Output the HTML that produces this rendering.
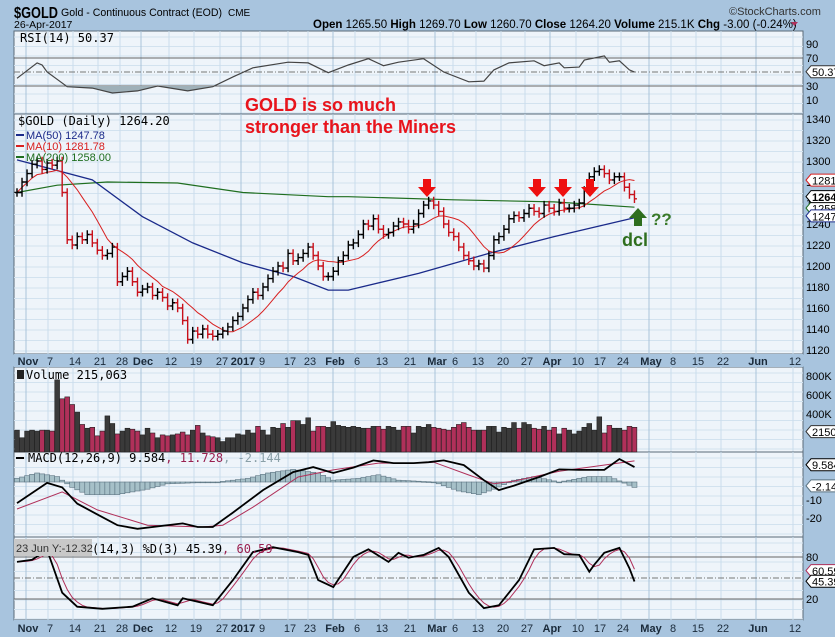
<!DOCTYPE html>
<html><head><meta charset="utf-8"><style>
body{margin:0;background:#a8c4de;width:835px;height:637px;overflow:hidden;font-family:"Liberation Sans",sans-serif}
svg{display:block}
</style></head><body>
<svg id="c" width="835" height="637" xmlns="http://www.w3.org/2000/svg">
<rect x="0" y="0" width="835" height="637" fill="#a8c4de"/>
<g id="g"></g>
</svg>
<script>
const closes=[1270,1280,1288,1297, 1300,1292,1298,1296,1300,1270,1225, 1220,1228,1225,1230,1222, 1215,1210,1212,1218,1185, 1190,1195,1185,1175,1178, 1180,1172,1175,1170,1162, 1165,1160,1148,1130,1138, 1135,1140,1135,1133,1135, 1138,1142,1148,1152, 1160,1168,1175,1172, 1180,1188,1195,1200,1198, 1212,1205,1208,1212, 1218,1210,1200,1190,1190, 1195,1205,1210,1220,1222, 1230,1240,1238,1245,1235, 1230,1232,1238,1242,1240, 1235,1240,1250,1258, 1262,1258,1252,1240,1232, 1228,1218,1210,1205,1200, 1202,1198,1210,1225,1228, 1235,1245,1248,1246,1250, 1255,1252,1250,1258,1255, 1252,1260,1255,1255,1258, 1260,1272,1285,1290, 1292,1288,1282,1285,1285, 1275,1268,1264];
const volumes=[230,150,220,230, 220,230,230,220,760,560,580, 500,420,290,250,260, 170,220,380,300,190, 220,250,240,220,180, 250,200,150,180,170, 180,190,210,180,230, 280,200,170,160,150, 110,150,150,190, 180,230,200,270, 230,180,260,250,300, 260,330,330,290, 360,220,270,270,260, 320,280,270,260,270, 260,250,250,270,270, 240,270,260,230,270, 270,200,270,260, 290,260,250,240,230, 260,290,310,260,230, 230,230,270,270,210, 260,250,310,250,310, 290,250,240,270,230, 260,190,250,230,190, 220,260,300,230, 370,200,280,250,250, 230,270,260,250,290];
const ma50Idx=[0,15,25,35,45,55,62,66,80,94,107,123];
const ma50Vals=[1301,1282,1247,1222,1203,1190,1177,1177,1193,1212,1228,1246];
const ma200Idx=[0,8,18,32,45,62,66,87,107,123];
const ma200Vals=[1270,1277,1280,1279,1270,1266,1266,1263,1261,1256];
const rsiIdx=[0,4,5,6,10,15,19,24,28,34,39,43,47,54,58,62,66,70,73,76,81,85,90,93,95,98,103,105,108,109,112,113,117,118,120,122,123];
const rsiVals=[41,63,60,50,29,27,20,23,30,23,29,43,56,64,63,49,60,69,59,64,69,50,36,37,53,63,66,59,63,56,57,67,73,64,66,53,50];
const macdIdx=[0,6,9,12,16,20,24,33,36,39,43,49,55,59,63,67,71,75,79,82,85,89,93,96,99,104,108,112,117,120,123];
const macdVals=[-11.7,-0.5,-3,-12,-18,-24,-26,-23,-25,-25,-17,-4.5,5.5,8.3,5,8,12,10.5,10.5,11,12,9.4,1,-4.5,-2,2.8,7,6.7,6.7,12.8,8.3];
const sigIdx=[0,9,16,26,37,41,47,56,63,72,79,83,90,95,99,108,116,123];
const sigVals=[-15,-5.5,-15.5,-24,-25,-24,-14,2.8,6.7,10.5,10.5,11,3.9,-1,0.5,6,9,11.7];
const histIdx=[0,4,8,11,14,20,26,30,40,46,50,55,60,63,68,72,76,83,88,92,95,99,103,108,114,118,123];
const histVals=[2,5,3,-3,-7,-7,-4,-1,0,2,5,7,5,1,2,4,1,0,-5,-7,-4,1,3,0,3,3,-3];
const stoIdx=[0,3,6,9,12,17,23,27,32,33,39,43,47,51,56,58,60,63,67,70,74,76,78,81,84,86,90,93,96,100,103,107,109,112,114,115,117,120,122,123];
const stoVals=[73,76,90,29,9,6,9,21,11,21,11,47,87,94,87,83,47,37,80,91,73,86,79,83,93,80,29,7,11,47,91,93,84,83,59,69,86,93,64,45];
const priceTicks=[1120,1140,1160,1180,1200,1220,1240,1260,1280,1300,1320,1340];
const rsiTicks=[10,30,70,90];
const volTicks=[400,600,800];
const macdTicks=[-20,-10];
const stoTicks=[20,80];
const dateLabels=[["Nov",28,1],["7",50,0],["14",75,0],["21",100,0],["28",122,0],["Dec",143,1],["12",171,0],["19",196,0],["27",222,0],["2017",243,1],["9",262,0],["17",290,0],["23",310,0],["Feb",335,1],["6",357,0],["13",382,0],["21",410,0],["Mar",437,1],["6",455,0],["13",478,0],["20",503,0],["27",527,0],["Apr",552,1],["10",578,0],["17",600,0],["24",623,0],["May",651,1],["8",673,0],["15",698,0],["22",723,0],["Jun",758,1],["12",795,0]];

const NS="http://www.w3.org/2000/svg",G=document.getElementById('g');
function el(t,a,p){const e=document.createElementNS(NS,t);for(const k in a)e.setAttribute(k,a[k]);(p||G).appendChild(e);return e;}
function tx(s,x,y,o){const e=el('text',Object.assign({x:x,y:y,'font-size':11,fill:'#000','font-family':'Liberation Sans, sans-serif'},o||{}));e.textContent=s;return e;}
const L=14,R=803;
const X=i=>17+i*5.02;
const yP=p=>350-(p-1120)*1.05;
const yR=v=>72-(v-50)*0.7;
const yV=v=>452-v*0.095;
const yM=v=>482-v*1.8;
const yS=v=>578-(v-50)*0.7;
function lerp(idx,vals,i){for(let k=0;k<idx.length-1;k++){if(i>=idx[k]&&i<=idx[k+1]){const t=(i-idx[k])/(idx[k+1]-idx[k]||1);return vals[k]+t*(vals[k+1]-vals[k]);}}return vals[vals.length-1];}
function pts(idx,vals,yf){return idx.map((ix,k)=>X(ix).toFixed(1)+','+yf(vals[k]).toFixed(1)).join(' ');}

const panels=[[31,114,'rsi-panel'],[114,354,'price-panel'],[367,452,'volume-panel'],[452,537,'macd-panel'],[537,620,'stochastic-panel']];
panels.forEach(([t,b,n])=>{
  const r=el('rect',{x:L,y:t,width:R-L,height:b-t,fill:'#eef4fa',stroke:'#5a6a78','stroke-width':1});
  
  for(let y=t+6;y<b;y+=(n==='price-panel'?10.5:9.5))el('line',{x1:L,x2:R,y1:y,y2:y,stroke:'#d2e2ef','stroke-width':1});
  dateLabels.forEach(d=>{el('line',{x1:d[1]-2,x2:d[1]-2,y1:t,y2:b,stroke:d[2]?'#a9c3d9':'#c9dcec','stroke-width':1});});
});
[[354,367,'date-axis-top'],[620,634,'date-axis-bottom']].forEach(([t,b,n])=>{
  const r=el('rect',{x:L,y:t,width:R-L,height:b-t,fill:'#a8c4de'});
  
  dateLabels.forEach(d=>{const e=tx(d[0],d[1],b-2,{'font-size':11,'text-anchor':'middle','font-weight':d[2]?'bold':'normal',fill:'#1a2a3a'});
    });
});

// RSI
rsiTicks.forEach(v=>{ if(v==30||v==70)el('line',{x1:L,x2:R,y1:yR(v),y2:yR(v),stroke:'#666'});
  const e=tx(String(v),806,yR(v)+4,{'font-size':11});});
el('line',{x1:L,x2:R,y1:yR(50),y2:yR(50),stroke:'#777','stroke-dasharray':'6,2,1,2'});
const cp=el('clipPath',{id:'below30'});el('rect',{x:L,y:yR(30),width:R-L,height:40},cp);
const rp=pts(rsiIdx,rsiVals,yR);
el('polygon',{points:X(0)+','+yR(30)+' '+rp+' '+X(123)+','+yR(30),fill:'#9fb0b8','clip-path':'url(#below30)'});
const rl=el('polyline',{points:rp,fill:'none',stroke:'#444','stroke-width':1.2});

tx('RSI(14) 50.37',20,42,{'font-size':12,'font-family':'DejaVu Sans Mono, monospace'});
// price
priceTicks.forEach(v=>{const e=tx(String(v),806,yP(v)+4,{'font-size':11});});
const ma10=closes.map((c,i)=>{const s=closes.slice(Math.max(0,i-9),i+1);return s.reduce((a,b)=>a+b,0)/s.length;});
const m200=el('polyline',{points:pts(ma200Idx,ma200Vals,yP),fill:'none',stroke:'#1f6e1f','stroke-width':1.2});

const m50=el('polyline',{points:pts(ma50Idx,ma50Vals,yP),fill:'none',stroke:'#1a2a8a','stroke-width':1.3});

const m10=el('polyline',{points:ma10.map((v,i)=>X(i)+','+yP(v)).join(' '),fill:'none',stroke:'#d82020','stroke-width':1});

closes.forEach((c,i)=>{const o=i?closes[i-1]:c;const up=c>=o;const col=up?'#000':'#c8101a';
  const hi=Math.max(o,c)+4,lo=Math.min(o,c)-4,x=X(i);
  const b=el('path',{d:`M${x},${yP(hi)}V${yP(lo)}M${x-2.5},${yP(o)}H${x}M${x},${yP(c)}H${x+2.5}`,stroke:col,'stroke-width':1.4,fill:'none'});
  });
tx('$GOLD (Daily) 1264.20',18,125,{'font-size':12,'font-family':'DejaVu Sans Mono, monospace'});
[['MA(50) 1247.78','#1a2a8a',139],['MA(10) 1281.78','#d82020',150],['MA(200) 1258.00','#1f6e1f',161]].forEach(m=>{
  el('line',{x1:16,x2:24,y1:m[2]-4,y2:m[2]-4,stroke:m[1],'stroke-width':2});tx(m[0],26,m[2],{'font-size':11,fill:m[1]});});
// annotations
tx('GOLD is so much',245,111,{'font-size':18,'font-weight':'bold',fill:'#e8141c'});
tx('stronger than the Miners',245,133,{'font-size':18,'font-weight':'bold',fill:'#e8141c'});
[427,537,563,590].forEach(x=>{const a=el('path',{d:`M${x-4},179h8v8h5l-9,10l-9,-10h5z`,fill:'#ee1010'});});
const ga=el('path',{d:'M638,208l9,10h-5v8h-8v-8h-5z',fill:'#2e6e1e'});
tx('??',651,225,{'font-size':17,'font-weight':'bold',fill:'#3a7a2a'});
tx('dcl',622,246,{'font-size':18,'font-weight':'bold',fill:'#2e6e1e'});
// volume
volTicks.forEach(v=>{const e=tx(v+'K',806,yV(v)+4,{'font-size':11});});
volumes.slice(0,closes.length).forEach((v,i)=>{const up=i==0||closes[i]>=closes[i-1];
  const b=el('rect',{x:X(i)-2.4,y:yV(v),width:4.8,height:452-yV(v),fill:up?'#3a3a3a':'#b0305a',stroke:'#222','stroke-width':0.6});
  });
tx('Volume 215,063',26,379,{'font-size':12,'font-family':'DejaVu Sans Mono, monospace'});
el('rect',{x:17,y:370,width:7,height:9,fill:'#222'});
// MACD
macdTicks.forEach(v=>{const e=tx(String(v),806,yM(v)+4,{'font-size':11});});
for(let i=0;i<closes.length;i++){const h=lerp(histIdx,histVals,i);
  const b=el('rect',{x:X(i)-2.5,y:Math.min(yM(0),yM(h)),width:5,height:Math.max(0.8,Math.abs(yM(h)-yM(0))),fill:'#a6c0c8',stroke:'#5a7280','stroke-width':0.6});
  }
const sl=el('polyline',{points:pts(sigIdx,sigVals,yM),fill:'none',stroke:'#b0305a','stroke-width':1});

const ml=el('polyline',{points:pts(macdIdx,macdVals,yM),fill:'none',stroke:'#000','stroke-width':1.8});

el('line',{x1:16,x2:24,y1:458,y2:458,stroke:'#000','stroke-width':2});
const mt=tx('MACD(12,26,9) 9.584',28,462,{'font-size':12,'font-family':'DejaVu Sans Mono, monospace'});
const s1=el('tspan',{fill:'#9a2050'},mt);s1.textContent=', 11.728';const s2=el('tspan',{fill:'#8aa0a8'},mt);s2.textContent=', -2.144';
// Stochastic
stoTicks.forEach(v=>{el('line',{x1:L,x2:R,y1:yS(v),y2:yS(v),stroke:'#666'});
  const e=tx(String(v),806,yS(v)+4,{'font-size':11});});
el('line',{x1:L,x2:R,y1:yS(50),y2:yS(50),stroke:'#777','stroke-dasharray':'6,2,1,2'});
const dp=[];for(let i=0;i<closes.length;i++){const a=[i-2,i-1,i].map(j=>lerp(stoIdx,stoVals,Math.max(0,j)));dp.push(X(i)+','+yS((a[0]+a[1]+a[2])/3));}
const dl=el('polyline',{points:dp.join(' '),fill:'none',stroke:'#b0305a','stroke-width':1});

const kl=el('polyline',{points:pts(stoIdx,stoVals,yS),fill:'none',stroke:'#000','stroke-width':1.8});

const st=tx('(14,3) %D(3) 45.39',92,553,{'font-size':12,'font-family':'DejaVu Sans Mono, monospace'});
const s3=el('tspan',{fill:'#9a2050'},st);s3.textContent=', 60.59';
el('rect',{x:14,y:539,width:78,height:17,fill:'#c8c8c8'});
tx('23 Jun Y:-12.32',16,552,{'font-size':11,fill:'#333'});
// value tags
function tag(s,y,col,bold){const w=s.length*6.4+6;el('path',{d:`M${R+3},${y}l5,-6h${w}v12h-${w}z`,fill:'#fff',stroke:col});
  tx(s,R+9,y+4.5,{'font-size':11,fill:'#000','font-weight':bold?'bold':'normal'});}
tag('50.37',yR(50.37),'#333');tag('1281.78',yP(1281.78),'#d82020');tag('1258.00',yP(1258)+3,'#1f6e1f');tag('1264.2',yP(1264.2)-2,'#000',1);tag('1247.78',yP(1247.78),'#1a2a8a');
tag('21506',yV(215),'#333');tag('9.584',yM(9.584),'#000');tag('-2.144',yM(-2.144),'#5a7280');tag('60.59',yS(60.59),'#b0305a');tag('45.39',yS(45.39),'#000');
// header
const h=tx('$GOLD',14,18,{'font-size':16,'font-weight':'bold',textLength:44,lengthAdjust:'spacingAndGlyphs'});
tx('Gold - Continuous Contract (EOD)',61,16,{'font-size':11,textLength:161,lengthAdjust:'spacingAndGlyphs'});tx('CME',228,16,{'font-size':10});
tx('26-Apr-2017',14,28,{'font-size':10.5});
tx('\u00a9StockCharts.com',729,15,{'font-size':11,fill:'#333'});
const q=tx('',313,28,{'font-size':11.5});
[['Open',1],[' 1265.50  ',0],['High',1],[' 1269.70  ',0],['Low',1],[' 1260.70  ',0],['Close',1],[' 1264.20  ',0],['Volume',1],[' 215.1K  ',0],['Chg',1],[' -3.00 (-0.24%) ',0]].forEach(p=>{const t=el('tspan',{'font-weight':p[1]?'bold':'normal'},q);t.textContent=p[0];});
el('path',{d:'M791,22h7l-3.5,4z',fill:'#b0305a'});
</script>
</body></html>
